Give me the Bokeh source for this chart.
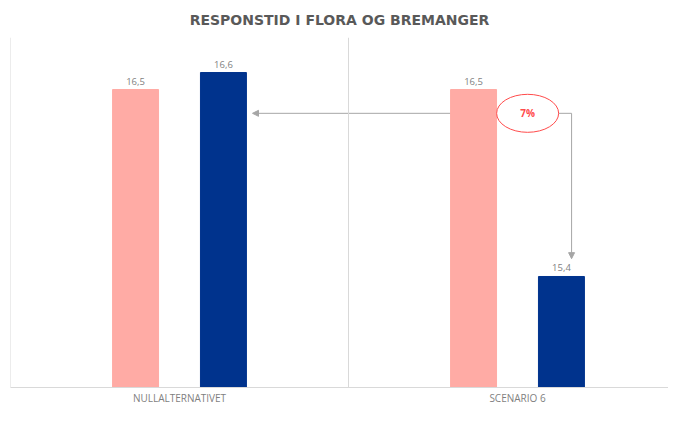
from bokeh.plotting import figure
from bokeh.models import (ColumnDataSource, Range1d, FixedTicker, Span, Arrow,
                          NormalHead)
from bokeh.core.properties import value
from bokeh.embed import file_html
from bokeh.resources import INLINE

# ---- data ----
categories = ["NULLALTERNATIVET", "SCENARIO 6"]
series_a = [16.5, 16.5]   # pink
series_b = [16.6, 15.4]   # navy
title_text = "RESPONSTID I FLORA OG BREMANGER"

# ---- style ----
PINK = "#ffaba5"
NAVY = "#00338d"
GRID = "#d9d9d9"
LABEL = "#7f7f7f"
ARROW = "#a6a6a6"
RED = "#ff4b4b"
FONT = "Open Sans"
DODGE = 0.13
BAR_W = 0.136

n = len(categories)
centers = [i + 0.5 for i in range(n)]
xa = [c - DODGE for c in centers]
xb = [c + DODGE for c in centers]

def fmt(v):
    return f"{v:.1f}".replace(".", ",")

p = figure(width=668, height=407, output_backend="svg", toolbar_location=None,
           x_range=Range1d(0, 658 / 338), y_range=Range1d(14.747, 16.806),
           min_border_left=10, min_border_right=0, min_border_top=37,
           min_border_bottom=0)
p.outline_line_color = None
p.background_fill_color = "white"
p.border_fill_color = "white"
p.xgrid.visible = False
p.ygrid.visible = False
p.yaxis.visible = False

p.title.text = title_text
p.title.align = "center"
p.title.text_font = "DejaVu Sans"
p.title.text_font_size = "14px"
p.title.text_font_style = "bold"
p.title.text_color = "#595959"
p.title.standoff = 15
p.title.vertical_align = "top"
p.title.text_line_height = 0.8

ax = p.xaxis[0]
ax.ticker = FixedTicker(ticks=centers)
ax.major_label_overrides = {c: cat for c, cat in zip(centers, categories)}
ax.major_tick_line_color = None
ax.major_tick_out = 0
ax.major_tick_in = 0
ax.minor_tick_line_color = None
ax.minor_tick_out = 0
ax.axis_line_color = GRID
ax.major_label_text_font = FONT
ax.major_label_text_font_size = "10px"
ax.major_label_text_color = LABEL
ax.major_label_standoff = 3

# frame lines
p.add_layout(Span(location=0, dimension="height", line_color=GRID, line_width=1))
p.add_layout(Span(location=1, dimension="height", line_color=GRID, line_width=1))

# annotation (drawn beneath bars)
pct = round((series_b[0] - series_b[1]) / series_b[0] * 100)
ann_y = 16.36
x_turn = xb[1] + 0.03
p.add_layout(Arrow(end=NormalHead(size=6, fill_color=ARROW, line_color=ARROW),
                   x_start=x_turn, y_start=ann_y,
                   x_end=xb[0] + BAR_W / 2 + 0.018, y_end=ann_y,
                   line_color=ARROW, line_width=1, level="underlay"))
p.add_layout(Arrow(end=NormalHead(size=6, fill_color=ARROW, line_color=ARROW),
                   x_start=x_turn, y_start=ann_y,
                   x_end=x_turn, y_end=series_b[1] + 0.105,
                   line_color=ARROW, line_width=1, level="underlay"))

src = ColumnDataSource(dict(xa=xa, xb=xb, a=series_a, b=series_b,
                            la=[fmt(v) for v in series_a],
                            lb=[fmt(v) for v in series_b]))
p.vbar(x="xa", top="a", bottom=0, width=BAR_W, source=src,
       fill_color=PINK, line_color=PINK)
p.vbar(x="xb", top="b", bottom=0, width=BAR_W, source=src,
       fill_color=NAVY, line_color=NAVY)
p.text(x="xa", y="a", text="la", source=src, text_align="center",
       text_baseline="bottom", y_offset=-5, text_font=value(FONT),
       text_font_size="9.5px", text_color=LABEL)
p.text(x="xb", y="b", text="lb", source=src, text_align="center",
       text_baseline="bottom", y_offset=-5, text_font=value(FONT),
       text_font_size="9.5px", text_color=LABEL)

ex = centers[1] + 0.03
p.ellipse(x=[ex], y=[ann_y], width=62, height=38, width_units="screen",
          height_units="screen", fill_color="white", line_color=RED, line_width=1)
p.text(x=[ex], y=[ann_y], text=[f"{pct}%"], text_align="center",
       text_baseline="middle", text_font=value(FONT), text_font_size="10px",
       text_font_style="bold", text_color=RED)

open("out.html", "w").write(file_html(p, INLINE))
